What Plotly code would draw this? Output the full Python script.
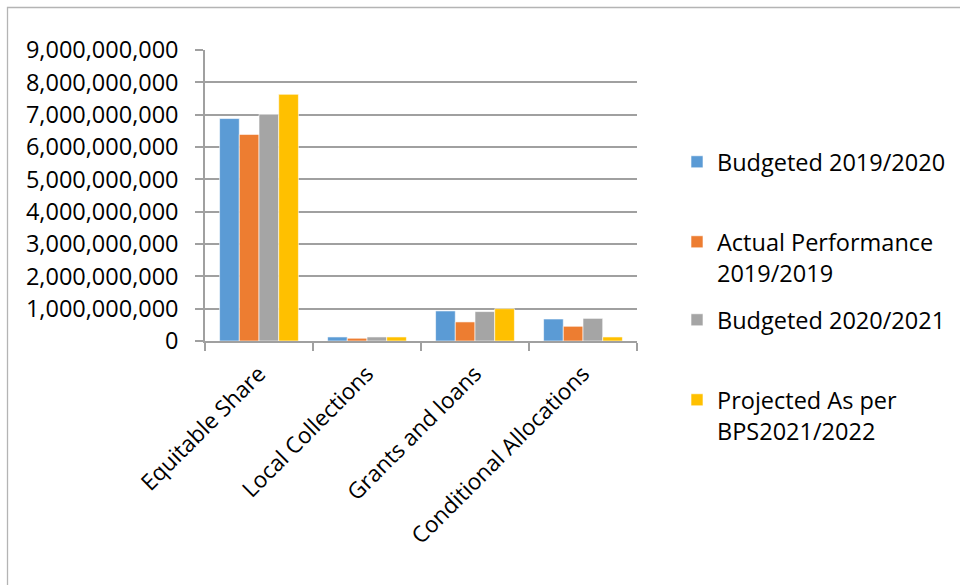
import plotly.graph_objects as go

categories = ["Equitable Share", "Local Collections", "Grants and loans", "Conditional Allocations"]
series_names = ["Budgeted 2019/2020", "Actual Performance<br>2019/2019", "Budgeted 2020/2021", "Projected As per<br>BPS2021/2022"]
budgeted_2019_2020 = [6.88e9, 0.125e9, 0.93e9, 0.68e9]
actual_2019_2019 = [6.39e9, 0.085e9, 0.59e9, 0.455e9]
budgeted_2020_2021 = [7.01e9, 0.125e9, 0.91e9, 0.70e9]
projected_2021_2022 = [7.63e9, 0.125e9, 1.0e9, 0.125e9]
y_tick_values = [0, 1e9, 2e9, 3e9, 4e9, 5e9, 6e9, 7e9, 8e9, 9e9]

colors = ["#5B9BD5", "#ED7D31", "#A5A5A5", "#FFC000"]
series_values = [budgeted_2019_2020, actual_2019_2019, budgeted_2020_2021, projected_2021_2022]
legend_ids = ["legend", "legend2", "legend3", "legend4"]

FONT = "Open Sans"
FS = 23.5

W, H = 960, 585
ML, MR, MT, MB = 205, 323, 50, 244
PW = W - ML - MR
PH = H - MT - MB

def px_x(p):
    return (p - ML) / PW

def px_y(p):
    return (H - MB - p) / PH

fig = go.Figure()
for name, vals, col, lg in zip(series_names, series_values, colors, legend_ids):
    fig.add_trace(go.Bar(
        x=categories, y=vals, name=name,
        marker=dict(color=col, line=dict(color="white", width=0.6)),
        legend=lg,
    ))

legend_first_line_centers = [163, 243, 321, 401]
legend_layout = {}
for lg, c in zip(legend_ids, legend_first_line_centers):
    legend_layout[lg] = dict(
        x=px_x(677), xanchor="left",
        y=px_y(c - 23), yanchor="top",
        font=dict(family=FONT, size=FS, color="#000000"),
        bgcolor="rgba(0,0,0,0)", borderwidth=0,
        valign="top",
    )

fig.update_layout(
    width=W, height=H,
    margin=dict(l=ML, r=MR, t=MT, b=MB, pad=0, autoexpand=False),
    paper_bgcolor="white", plot_bgcolor="white",
    barmode="group", bargap=0.27, bargroupgap=0,
    font=dict(family=FONT, size=FS, color="#000000"),
    showlegend=True,
    **legend_layout,
)

fig.update_xaxes(
    showline=True, linecolor="#A0A0A0", linewidth=1.5,
    ticks="outside", tickson="boundaries", ticklen=8, tickcolor="#A0A0A0", tickwidth=1.5,
    tickangle=-45, showgrid=False, automargin=False,
    ticklabelstandoff=9,
    tickfont=dict(family=FONT, size=22.5, color="#000000"),
)
fig.update_yaxes(
    range=[0, 9e9], tickvals=y_tick_values, tickformat=",d",
    showline=True, linecolor="#A0A0A0", linewidth=1.5,
    ticks="outside", ticklen=8, tickcolor="#A0A0A0", tickwidth=1.5,
    showgrid=True, gridcolor="#A0A0A0", gridwidth=1.5,
    zeroline=False, ticklabelstandoff=12, automargin=False,
    tickfont=dict(family=FONT, size=FS, color="#000000"),
)

fig.add_shape(
    type="rect", xref="paper", yref="paper",
    x0=px_x(7.5), x1=px_x(975), y0=px_y(600), y1=px_y(7.5),
    line=dict(color="#B4B4B4", width=1.3), fillcolor="rgba(0,0,0,0)", layer="below",
)

fig.write_html(
    "out.html",
    config={"displayModeBar": False},
    post_script="document.body.style.margin='0';document.body.style.overflow='hidden';",
)
